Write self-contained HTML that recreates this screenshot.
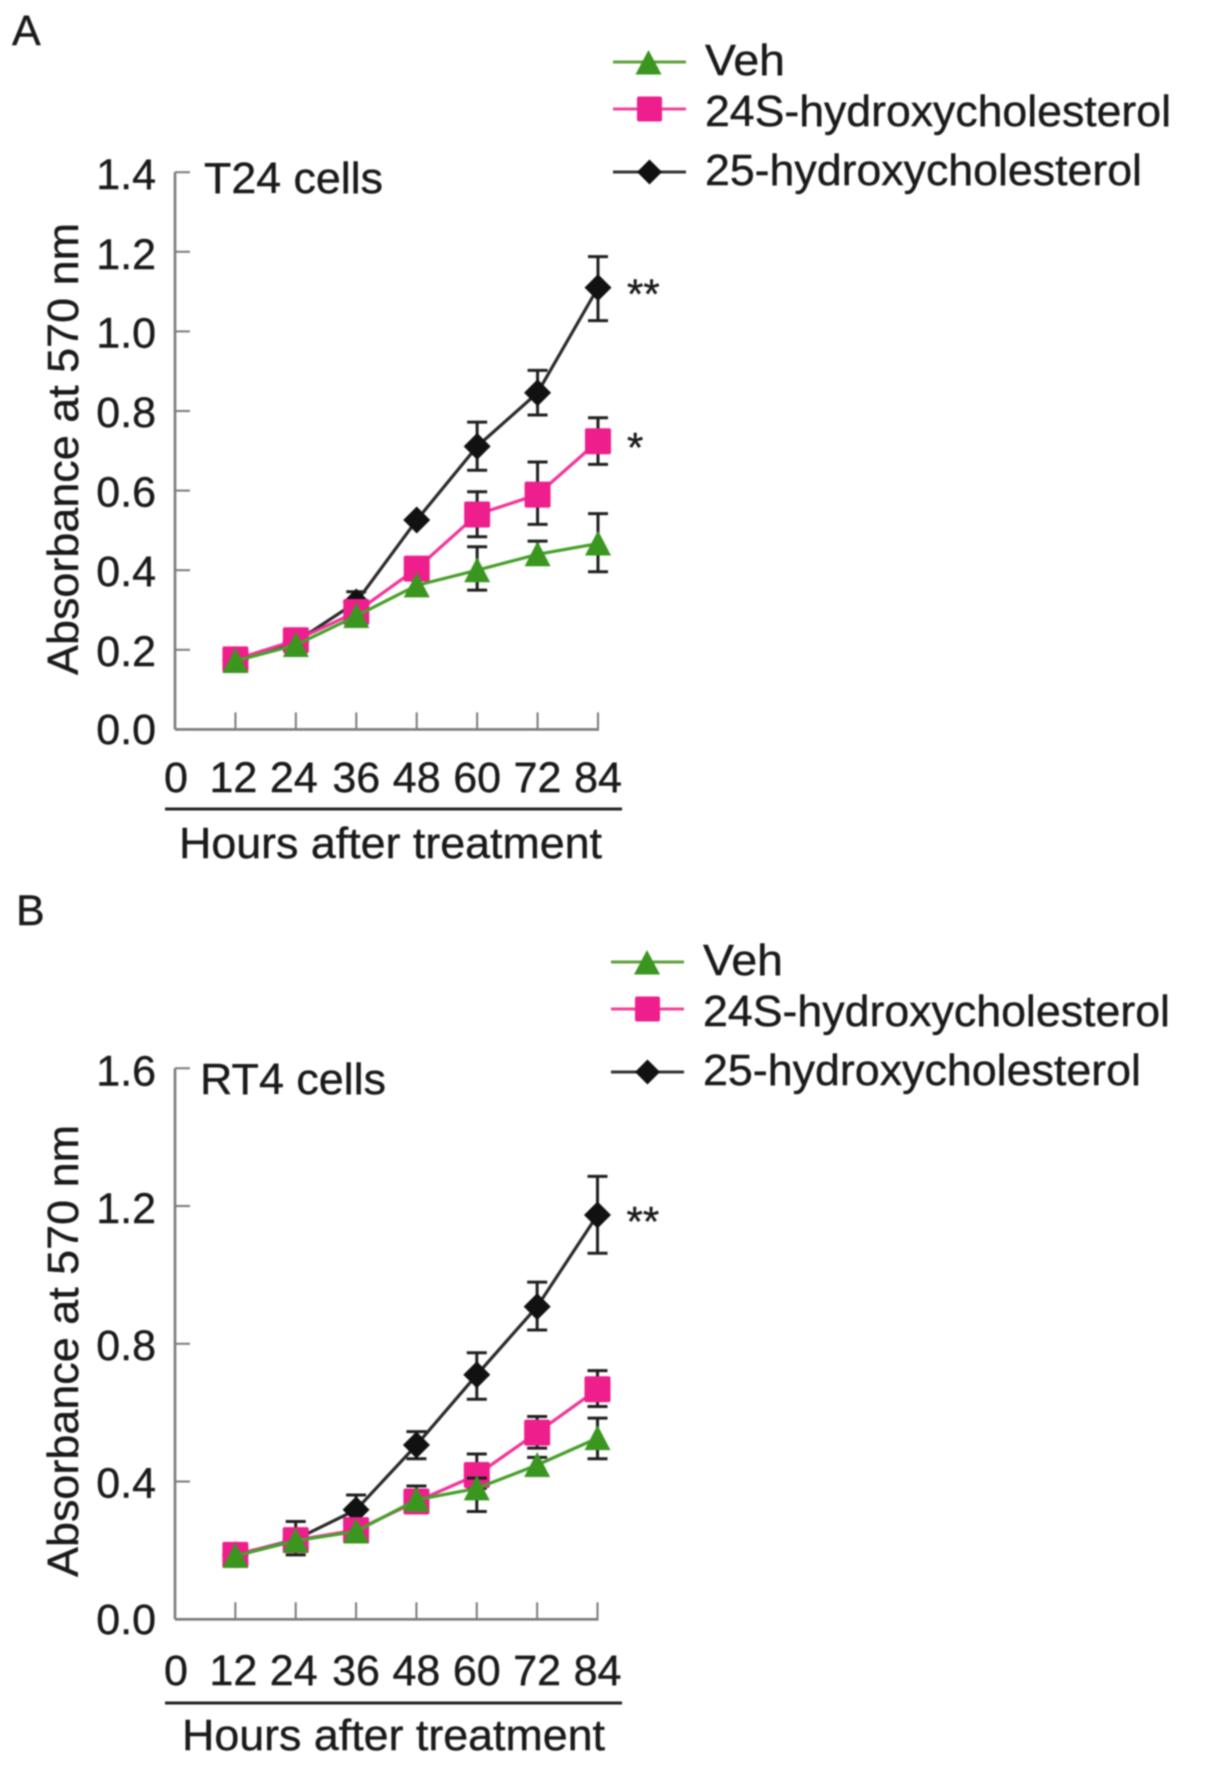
<!DOCTYPE html>
<html lang="en">
<head>
<meta charset="utf-8">
<title>Absorbance growth curves for T24 and RT4 cells</title>
<style>
html,body{margin:0;padding:0;background:#fff;}
svg{display:block;filter:blur(0.7px);}
text{font-family:"Liberation Sans",Arial,sans-serif;fill:#1a1a1a;stroke:#1a1a1a;stroke-width:0.4px;}
</style>
</head>
<body>
<svg id="figure" xmlns="http://www.w3.org/2000/svg" width="1205" height="1765" viewBox="0 0 1205 1765">
  <rect x="0" y="0" width="1205" height="1765" fill="#ffffff"/>

  <text x="12" y="45" font-size="43">A</text>
  <text x="204" y="193" font-size="44" textLength="179" lengthAdjust="spacingAndGlyphs">T24 cells</text>
  <text transform="translate(78,675) rotate(-90)" font-size="44" textLength="452" lengthAdjust="spacingAndGlyphs">Absorbance at 570 nm</text>
  <text x="179" y="858" font-size="44" textLength="423" lengthAdjust="spacingAndGlyphs">Hours after treatment</text>
  <line x1="165" y1="809" x2="622" y2="809" stroke="#222" stroke-width="3"/>

  <text x="16" y="925" font-size="43">B</text>
  <text x="200" y="1094" font-size="44" textLength="186" lengthAdjust="spacingAndGlyphs">RT4 cells</text>
  <text transform="translate(78,1577) rotate(-90)" font-size="44" textLength="452" lengthAdjust="spacingAndGlyphs">Absorbance at 570 nm</text>
  <text x="182" y="1750" font-size="44" textLength="423" lengthAdjust="spacingAndGlyphs">Hours after treatment</text>
  <line x1="165" y1="1703" x2="622" y2="1703" stroke="#222" stroke-width="3"/>

  <g>
    <line x1="613" y1="62" x2="686" y2="62" stroke="#5fa03a" stroke-width="3"/>
    <polygon points="648.5,50 661.5,74.5 635.5,74.5" fill="#3a961f"/>
    <text x="705" y="75" font-size="44" textLength="80" lengthAdjust="spacingAndGlyphs">Veh</text>
    <line x1="613" y1="109" x2="686" y2="109" stroke="#f0419a" stroke-width="3"/>
    <rect x="637" y="96.5" width="25" height="25" rx="2" fill="#ee1e8c"/>
    <text x="705" y="126" font-size="44" textLength="466" lengthAdjust="spacingAndGlyphs">24S-hydroxycholesterol</text>
    <line x1="613" y1="172" x2="686" y2="172" stroke="#333" stroke-width="3"/>
    <polygon points="649.5,159.5 662,172 649.5,184.5 637,172" fill="#111"/>
    <text x="705" y="185" font-size="44" textLength="437" lengthAdjust="spacingAndGlyphs">25-hydroxycholesterol</text>
  </g>

  <g>
    <line x1="611" y1="962" x2="684" y2="962" stroke="#5fa03a" stroke-width="3"/>
    <polygon points="647,950 660,974.5 634,974.5" fill="#3a961f"/>
    <text x="703" y="975" font-size="44" textLength="80" lengthAdjust="spacingAndGlyphs">Veh</text>
    <line x1="611" y1="1009" x2="684" y2="1009" stroke="#f0419a" stroke-width="3"/>
    <rect x="635" y="996.5" width="25" height="25" rx="2" fill="#ee1e8c"/>
    <text x="703" y="1026" font-size="44" textLength="467" lengthAdjust="spacingAndGlyphs">24S-hydroxycholesterol</text>
    <line x1="611" y1="1072" x2="684" y2="1072" stroke="#333" stroke-width="3"/>
    <polygon points="647.5,1059.5 660,1072 647.5,1084.5 635,1072" fill="#111"/>
    <text x="703" y="1085" font-size="44" textLength="438" lengthAdjust="spacingAndGlyphs">25-hydroxycholesterol</text>
  </g>

  <g id="panel-a"></g>
  <g id="panel-b"></g>
</svg>

<script>
const hours = [12, 24, 36, 48, 60, 72, 84];
const xTickLabels = [0, 12, 24, 36, 48, 60, 72, 84];

const aYTicks = [0, 0.2, 0.4, 0.6, 0.8, 1.0, 1.2, 1.4];
const aBlack = [0.175, 0.22, 0.32, 0.526, 0.711, 0.846, 1.11];
const aBlackHi = [0.175, 0.22, 0.346, 0.526, 0.772, 0.902, 1.188];
const aBlackLo = [0.175, 0.22, 0.30, 0.526, 0.651, 0.79, 1.027];
const aPink = [0.176, 0.224, 0.295, 0.404, 0.54, 0.59, 0.724];
const aPinkHi = [0.176, 0.224, 0.295, 0.404, 0.597, 0.672, 0.783];
const aPinkLo = [0.176, 0.224, 0.295, 0.404, 0.484, 0.515, 0.666];
const aGreen = [0.172, 0.212, 0.285, 0.362, 0.40, 0.44, 0.467];
const aGreenHi = [0.172, 0.212, 0.285, 0.362, 0.459, 0.473, 0.542];
const aGreenLo = [0.172, 0.212, 0.285, 0.362, 0.35, 0.42, 0.396];

const bYTicks = [0, 0.4, 0.8, 1.2, 1.6];
const bBlack = [0.187, 0.232, 0.318, 0.506, 0.71, 0.908, 1.174];
const bBlackHi = [0.187, 0.284, 0.361, 0.545, 0.774, 0.979, 1.286];
const bBlackLo = [0.187, 0.20, 0.29, 0.466, 0.639, 0.84, 1.063];
const bPink = [0.187, 0.23, 0.259, 0.342, 0.419, 0.542, 0.668];
const bPinkHi = [0.187, 0.23, 0.259, 0.387, 0.48, 0.589, 0.722];
const bPinkLo = [0.187, 0.187, 0.259, 0.33, 0.38, 0.497, 0.618];
const bGreen = [0.184, 0.228, 0.255, 0.347, 0.38, 0.448, 0.526];
const bGreenHi = [0.184, 0.228, 0.255, 0.347, 0.41, 0.47, 0.584];
const bGreenLo = [0.184, 0.228, 0.255, 0.347, 0.313, 0.425, 0.466];

const SVGNS = 'http://www.w3.org/2000/svg';
const colors = { black: '#111111', blackLine: '#2a2a2a', pink: '#ee1e8c', pinkLine: '#f0359a', green: '#3a961f', greenLine: '#47a02a', err: '#1f1f1f', axis: '#7a7a7a' };

function mk(tag, parent, props) {
  const el = document.createElementNS(SVGNS, tag);
  for (const k in props) el.setAttribute(k, props[k]);
  parent.appendChild(el);
  return el;
}

function yLabelOffset(v) {
  if (v === 0) return 14.5;
  return v >= 1.2 ? 17 : 16;
}

function xLabelNudge(h) {
  if (h === 0) return 1;
  if (h === 12) return -2;
  if (h === 24) return -2;
  return 0;
}

function drawPanel(panel) {
  const g = document.getElementById(panel.id);
  const x = h => panel.x0 + (h / 84) * (panel.x84 - panel.x0);
  const y = v => panel.y0 - v * panel.yScale;
  const yTop = y(panel.yTicks[panel.yTicks.length - 1]);

  const yAxis = mk('line', g, { x1: panel.x0, y1: yTop, x2: panel.x0, y2: panel.y0, stroke: colors.axis, 'stroke-width': 2.6 });
  
  

  const xAxis = mk('line', g, { x1: panel.x0, y1: panel.y0, x2: panel.x84 + 1, y2: panel.y0, stroke: colors.axis, 'stroke-width': 2.6 });
  
  

  panel.yTicks.forEach(v => {
    const t = mk('line', g, { x1: panel.x0, y1: y(v), x2: panel.x0 + 15, y2: y(v), stroke: colors.axis, 'stroke-width': 2 });
    
    
    const label = mk('text', g, { x: 156, y: y(v) + yLabelOffset(v), 'font-size': 43, 'text-anchor': 'end' });
    label.textContent = v.toFixed(1);
    
    
  });

  xTickLabels.forEach(h => {
    if (h > 0) {
      const t = mk('line', g, { x1: x(h), y1: panel.y0, x2: x(h), y2: panel.y0 - 17, stroke: colors.axis, 'stroke-width': 2 });
      
      
    }
    const label = mk('text', g, { x: x(h) + xLabelNudge(h), y: panel.xLabelY, 'font-size': 43, 'text-anchor': 'middle' });
    label.textContent = h;
    
    
  });

  panel.series.forEach(s => {
    const errGroup = mk('g', g, {});
    
    
    hours.forEach((h, i) => {
      const px = x(h), top = y(s.hi[i]), bot = y(s.lo[i]);
      if (top === bot) return;
      const stem = mk('line', errGroup, { x1: px, y1: top, x2: px, y2: bot, stroke: colors.err, 'stroke-width': 3 });
      
      
      [top, bot].forEach(cy => {
        const cap = mk('line', errGroup, { x1: px - 10, y1: cy, x2: px + 10, y2: cy, stroke: colors.err, 'stroke-width': 3 });
        
        
      });
    });

    const pts = hours.map((h, i) => x(h) + ',' + y(s.values[i])).join(' ');
    const line = mk('polyline', g, { points: pts, fill: 'none', stroke: s.lineColor, 'stroke-width': 3.2 });
    
    

    hours.forEach((h, i) => {
      const px = x(h), py = y(s.values[i]);
      let m;
      if (s.shape === 'square') {
        m = mk('rect', g, { x: px - 13, y: py - 13, width: 26, height: 26, rx: 2, fill: s.color });
      } else if (s.shape === 'diamond') {
        m = mk('polygon', g, { points: [px, py - 13.5, px + 13.5, py, px, py + 13.5, px - 13.5, py].join(' '), fill: s.color });
      } else {
        m = mk('polygon', g, { points: [px, py - 13, px + 13, py + 12, px - 13, py + 12].join(' '), fill: s.color });
      }
      
      
    });
  });

  panel.stars.forEach(st => {
    const px = x(84) + 29;
    const py = y(st.series[st.series.length - 1]) + 21;
    const t = mk('text', g, { x: px, y: py, 'font-size': 42 });
    t.textContent = st.text;
    
    
  });
}

drawPanel({
  id: 'panel-a', x0: 175, x84: 598, y0: 729.4, yScale: 398, xLabelY: 792, yTicks: aYTicks,
  series: [
    { name: '25-hydroxycholesterol', shape: 'diamond', color: colors.black, lineColor: colors.blackLine, values: aBlack, hi: aBlackHi, lo: aBlackLo },
    { name: '24s-hydroxycholesterol', shape: 'square', color: colors.pink, lineColor: colors.pinkLine, values: aPink, hi: aPinkHi, lo: aPinkLo },
    { name: 'veh', shape: 'triangle', color: colors.green, lineColor: colors.greenLine, values: aGreen, hi: aGreenHi, lo: aGreenLo }
  ],
  stars: [{ text: '**', series: aBlack }, { text: '*', series: aPink }]
});

drawPanel({
  id: 'panel-b', x0: 175, x84: 597.5, y0: 1619.3, yScale: 344.4, xLabelY: 1685, yTicks: bYTicks,
  series: [
    { name: '25-hydroxycholesterol', shape: 'diamond', color: colors.black, lineColor: colors.blackLine, values: bBlack, hi: bBlackHi, lo: bBlackLo },
    { name: '24s-hydroxycholesterol', shape: 'square', color: colors.pink, lineColor: colors.pinkLine, values: bPink, hi: bPinkHi, lo: bPinkLo },
    { name: 'veh', shape: 'triangle', color: colors.green, lineColor: colors.greenLine, values: bGreen, hi: bGreenHi, lo: bGreenLo }
  ],
  stars: [{ text: '**', series: bBlack }]
});
</script>
</body>
</html>
